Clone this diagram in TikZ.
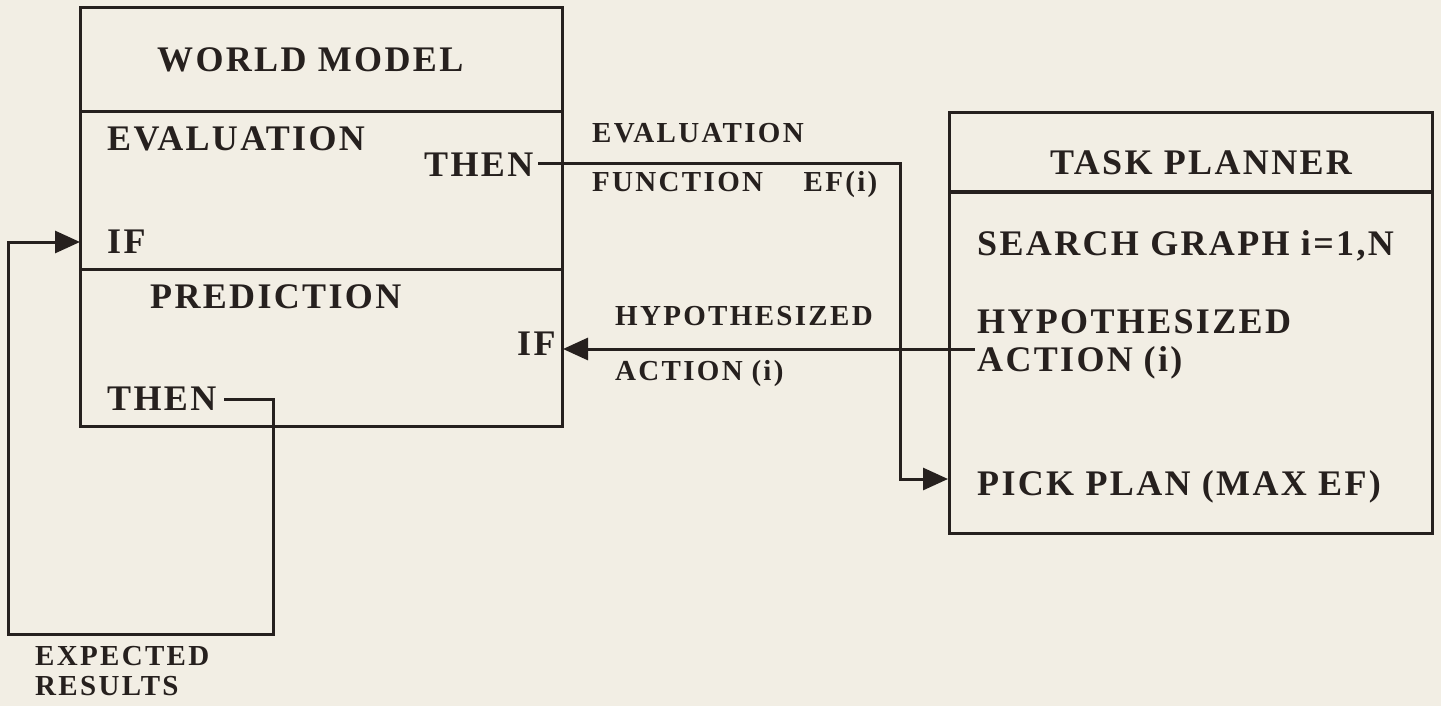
\documentclass[tikz,border=0pt]{standalone}
\usepackage{fontspec}
\setmainfont{Liberation Serif}
\usetikzlibrary{arrows.meta}
\definecolor{bgc}{RGB}{242,238,228}
\definecolor{ink}{RGB}{38,32,30}
\begin{document}
\begin{tikzpicture}[x=1pt,y=-1pt,
  big/.style={anchor=base west,inner sep=0pt,text=ink,font=\fontsize{36}{40}\selectfont\bfseries\addfontfeatures{LetterSpace=6.5}},
  small/.style={anchor=base west,inner sep=0pt,text=ink,font=\fontsize{29}{32}\selectfont\bfseries\addfontfeatures{LetterSpace=8}},
  boxline/.style={draw=ink,line width=3pt},
  conn/.style={draw=ink,line width=3pt},
  arr/.style={conn,-{Triangle[length=25pt,width=22pt]}}]
\fill[bgc] (0,0) rectangle (1441,706);
\useasboundingbox (0,0) rectangle (1441,706);
% World model box
\draw[boxline] (80,8) rectangle (562,426);
\draw[boxline] (80,112) -- (562,112);
\draw[boxline] (80,269) -- (562,269);
% Task planner box
\draw[boxline] (949,113) rectangle (1432,533);
\draw[boxline] (949,192) -- (1432,192);
% texts in world model
\node[big] (wm) at (157,72) {WORLD MODEL};
\node[big] (ev) at (107,150) {EVALUATION};
\node[big] (then1) at (424,177) {THEN};
\node[big] (if1) at (107,253) {IF};
\node[big] (pred) at (150,308) {PREDICTION};
\node[big] (if2) at (517,355) {IF};
\node[big] (then2) at (107,410) {THEN};
% texts in task planner
\node[big] (tp) at (1050,175) {TASK PLANNER};
\node[big] (sg) at (977,255) {SEARCH GRAPH i=1,N};
\node[big] (hyp) at (977,333) {HYPOTHESIZED};
\node[big] (act) at (977,371) {ACTION\hspace{0.3em}(i)};
\node[big] (pick) at (977,495) {PICK PLAN (MAX EF)};
% labels
\node[small] (efl1) at (592,143) {EVALUATION};
\node[small] (efl2) at (592,192) {FUNCTION\hspace{1.4em}EF(i)};
\node[small] (hal1) at (615,325) {HYPOTHESIZED};
\node[small] (hal2) at (615,380) {ACTION\hspace{0.3em}(i)};
\node[small] (er1) at (35,665) {EXPECTED};
\node[small] (er2) at (35,695) {RESULTS};
% connector coordinates
\coordinate (a0) at (538,164);
\coordinate (a1) at (900,164);
\coordinate (a2) at (900,479);
\coordinate (a3) at (948,479);
\coordinate (b0) at (975,349);
\coordinate (b1) at (563,349);
\coordinate (c0) at (224,399);
\coordinate (c1) at (273,399);
\coordinate (c2) at (273,634);
\coordinate (c3) at (8,634);
\coordinate (c4) at (8,242);
\coordinate (c5) at (80,242);
\draw[arr] (a0) -- (a1) -- (a2) -- (a3);
\draw[arr] (b0) -- (b1);
\draw[arr] (c0) -- (c1) -- (c2) -- (c3) -- (c4) -- (c5);
\end{tikzpicture}
\end{document}
